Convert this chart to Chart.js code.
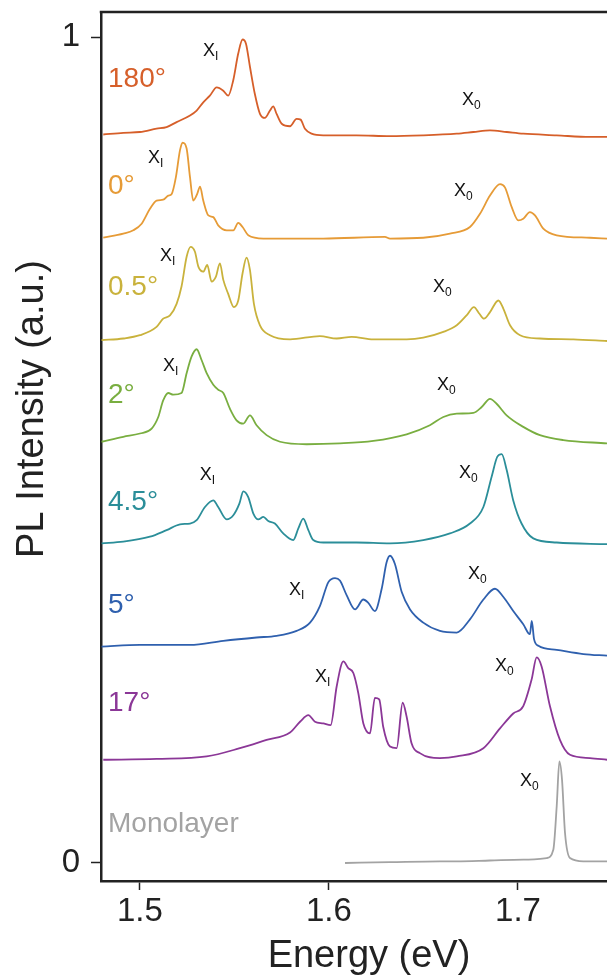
<!DOCTYPE html>
<html lang="en">
<head>
  <meta charset="UTF-8">
  <title>PL spectra vs twist angle</title>
  <script src="https://cdn.jsdelivr.net/npm/chart.js"></script>
  <style>
    html, body{margin: 0; padding: 0; background: #fff;}
    #wrap{width: 607px; height: 978px;}
  </style>
</head>
<body>
  <div id="wrap">
    <canvas id="myChart"></canvas>
  </div>
  <script>
    // ===== data (energy in eV, intensity above each baseline) =====
    const e180 = [1.4806,1.4912,1.5000,1.5088,1.5141,1.5194,1.5265,1.5300,1.5335,1.5370,1.5406,1.5441,1.5467,1.5494,1.5520,1.5543,1.5561,1.5582,1.5608,1.5635,1.5661,1.5688,1.5705,1.5723,1.5750,1.5794,1.5829,1.5850,1.5873,1.5908,1.5970,1.6146,1.6323,1.6499,1.6676,1.6764,1.6852,1.6941,1.7028,1.7205,1.7381,1.7471];
    const i180 = [-0.001,0.001,0.002,0.006,0.008,0.014,0.022,0.028,0.038,0.046,0.056,0.052,0.046,0.065,0.097,0.114,0.109,0.081,0.048,0.024,0.019,0.028,0.033,0.024,0.012,0.009,0.018,0.017,0.006,0,-0.002,-0.002,-0.003,-0.002,0,0.002,0.004,0.002,0,-0.002,-0.004,-0.004];

    const e0 = [1.4806,1.4912,1.4965,1.5009,1.5053,1.5088,1.5123,1.5150,1.5168,1.5190,1.5212,1.5226,1.5247,1.5265,1.5282,1.5303,1.5318,1.5335,1.5362,1.5388,1.5414,1.5459,1.5494,1.5520,1.5543,1.5573,1.5653,1.5970,1.6296,1.6323,1.6499,1.6640,1.6746,1.6799,1.6852,1.6905,1.6931,1.6967,1.7002,1.7028,1.7063,1.7090,1.7134,1.7205,1.7381,1.7471];
    const i0 = [0,0.005,0.009,0.017,0.035,0.045,0.046,0.051,0.053,0.073,0.106,0.115,0.108,0.073,0.045,0.053,0.062,0.045,0.027,0.025,0.015,0.009,0.009,0.018,0.013,0.003,-0.001,-0.001,0.001,-0.001,0,0.005,0.013,0.029,0.051,0.065,0.061,0.037,0.021,0.023,0.031,0.027,0.011,0.003,0,-0.001];

    const e05 = [1.4797,1.4912,1.5000,1.5088,1.5123,1.5159,1.5194,1.5220,1.5247,1.5268,1.5291,1.5309,1.5335,1.5356,1.5379,1.5402,1.5423,1.5441,1.5467,1.5497,1.5520,1.5543,1.5564,1.5582,1.5603,1.5635,1.5688,1.5794,1.5952,1.6041,1.6120,1.6235,1.6411,1.6499,1.6605,1.6676,1.6728,1.6767,1.6796,1.6820,1.6852,1.6896,1.6923,1.6958,1.7011,1.7116,1.7293,1.7471];
    const i05 = [0,0.002,0.006,0.016,0.026,0.030,0.044,0.065,0.101,0.113,0.107,0.089,0.083,0.091,0.071,0.077,0.093,0.073,0.056,0.040,0.048,0.081,0.100,0.085,0.044,0.018,0.006,0.001,0.005,0.002,0.004,0.001,0.001,0.003,0.010,0.018,0.030,0.040,0.032,0.026,0.034,0.048,0.038,0.018,0.006,0.002,0.001,-0.001];

    const e2 = [1.4797,1.4912,1.5000,1.5062,1.5097,1.5123,1.5150,1.5176,1.5220,1.5247,1.5273,1.5300,1.5326,1.5353,1.5388,1.5414,1.5441,1.5476,1.5511,1.5547,1.5582,1.5617,1.5670,1.5741,1.5882,1.6058,1.6235,1.6411,1.6534,1.6605,1.6676,1.6764,1.6808,1.6852,1.6887,1.6940,1.7028,1.7116,1.7240,1.7471];
    const i2 = [0.002,0.008,0.012,0.018,0.032,0.052,0.061,0.059,0.061,0.085,0.105,0.114,0.101,0.085,0.071,0.065,0.061,0.042,0.028,0.024,0.034,0.022,0.010,0.002,-0.001,0,0.003,0.011,0.022,0.032,0.036,0.037,0.044,0.054,0.048,0.034,0.020,0.010,0.004,0];

    const e45 = [1.4797,1.4912,1.5053,1.5141,1.5212,1.5265,1.5300,1.5344,1.5388,1.5414,1.5459,1.5494,1.5526,1.5547,1.5573,1.5600,1.5626,1.5653,1.5679,1.5714,1.5758,1.5811,1.5838,1.5864,1.5891,1.5917,1.5970,1.6146,1.6323,1.6499,1.6640,1.6746,1.6817,1.6861,1.6891,1.6914,1.6940,1.6975,1.7019,1.7081,1.7205,1.7471];
    const i45 = [0,0.002,0.008,0.016,0.023,0.024,0.028,0.044,0.052,0.044,0.029,0.034,0.048,0.063,0.056,0.036,0.029,0.032,0.027,0.024,0.012,0.004,0.018,0.030,0.016,0.004,0.001,0.001,0,0.004,0.012,0.024,0.044,0.081,0.105,0.108,0.089,0.052,0.024,0.006,0.001,-0.001];

    const e5 = [1.4797,1.5000,1.5265,1.5441,1.5617,1.5723,1.5829,1.5900,1.5952,1.5997,1.6032,1.6058,1.6094,1.6138,1.6182,1.6208,1.6243,1.6279,1.6305,1.6323,1.6349,1.6385,1.6429,1.6499,1.6587,1.6676,1.6746,1.6817,1.6878,1.6923,1.6975,1.7028,1.7063,1.7073,1.7085,1.7108,1.7205,1.7346,1.7471];
    const i5 = [-0.001,0.001,0.001,0.006,0.010,0.012,0.018,0.028,0.048,0.077,0.082,0.079,0.061,0.044,0.056,0.052,0.042,0.069,0.101,0.109,0.099,0.065,0.044,0.028,0.018,0.016,0.032,0.056,0.069,0.059,0.042,0.026,0.014,0.030,0.008,0,-0.005,-0.010,-0.012];

    const e17 = [1.4806,1.5088,1.5353,1.5529,1.5670,1.5794,1.5847,1.5891,1.5926,1.5970,1.6009,1.6041,1.6076,1.6102,1.6129,1.6155,1.6182,1.6217,1.6243,1.6266,1.6287,1.6323,1.6358,1.6390,1.6411,1.6437,1.6481,1.6587,1.6676,1.6817,1.6905,1.6975,1.7028,1.7072,1.7099,1.7125,1.7169,1.7222,1.7275,1.7381,1.7471];
    const i17 = [0,0.001,0.004,0.014,0.024,0.033,0.046,0.054,0.046,0.044,0.042,0.089,0.119,0.111,0.105,0.081,0.044,0.032,0.075,0.073,0.040,0.016,0.014,0.069,0.052,0.020,0.008,0.002,0.004,0.014,0.038,0.056,0.065,0.097,0.124,0.113,0.065,0.024,0.006,0.002,0];

    const eMono = [1.6085,1.6323,1.6587,1.6676,1.6852,1.7028,1.7152,1.7187,1.7205,1.7219,1.7233,1.7249,1.7275,1.7346,1.7471];
    const iMono = [0,0.001,0.002,0.002,0.003,0.004,0.006,0.016,0.069,0.123,0.101,0.036,0.006,0.002,0.002];

    const traceNames   = ['180°', '0°', '0.5°', '2°', '4.5°', '5°', '17°', 'Monolayer'];
    const traceOffsets = [0.883, 0.757, 0.633, 0.508, 0.387, 0.263, 0.125, 0];
    const energyList    = [e180, e0, e05, e2, e45, e5, e17, eMono];
    const intensityList = [i180, i0, i05, i2, i45, i5, i17, iMono];

    const xTicks = [1.5, 1.6, 1.7];
    const yTicks = [0, 1];

    // ===== styling / placement (not data) =====
    const traceColors = ['#D65F2A', '#E69B37', '#C9B23C', '#79AE40', '#2B8E99', '#2F60AE', '#8B3797', '#A3A3A3'];
    // where the name of each trace sits (energy, y value of the text baseline)
    const nameX = 1.4831;
    const nameY = [0.939, 0.810, 0.688, 0.557, 0.427, 0.303, 0.184, 0.0375];
    // X_I / X_0 marks: [subscript, energy, baseline y]
    const peakMarks = [
      ['I', 1.5333, 0.977], ['0', 1.6704, 0.918],
      ['I', 1.5042, 0.847], ['0', 1.6661, 0.807],
      ['I', 1.5106, 0.729], ['0', 1.6550, 0.691],
      ['I', 1.5122, 0.596], ['0', 1.6571, 0.573],
      ['I', 1.5317, 0.464], ['0', 1.6688, 0.466],
      ['I', 1.5788, 0.324], ['0', 1.6735, 0.344],
      ['I', 1.5926, 0.219], ['0', 1.6878, 0.232],
      ['0', 1.7011, 0.093]
    ];

    const FONT = '"Liberation Sans", Arial, Helvetica, sans-serif';
    const AXIS = '#222';

    // build datasets: each spectrum shifted up by its offset
    const datasets = traceNames.map(function(name, k){
      const pts = [];
      const n = Math.min(energyList[k].length, intensityList[k].length);
      for(let i=0;i<n;i++){
        pts.push({x: energyList[k][i], y: intensityList[k][i] + traceOffsets[k]});
      }
      return {
        label: name,
        data: pts,
        borderColor: traceColors[k],
        borderWidth: 1.8,
        pointRadius: 0,
        cubicInterpolationMode: 'monotone',
        fill: false
      };
    });

    // text on the plot + top frame line + axis titles
    const textPlugin = {
      id: 'textPlugin',
      afterDatasetsDraw(chart){
        const ctx = chart.ctx;
        const area = chart.chartArea;
        const xs = chart.scales.x, ys = chart.scales.y;
        ctx.save();

        // top frame line
        ctx.strokeStyle = AXIS;
        ctx.lineWidth = 2.5;
        ctx.beginPath();
        ctx.moveTo(area.left - 1.25, area.top);
        ctx.lineTo(area.right, area.top);
        ctx.stroke();

        // trace names
        ctx.font = '28px ' + FONT;
        ctx.textAlign = 'left';
        ctx.textBaseline = 'alphabetic';
        traceNames.forEach(function(name, k){
          ctx.fillStyle = traceColors[k];
          ctx.fillText(name, xs.getPixelForValue(nameX), ys.getPixelForValue(nameY[k]));
        });

        // X_I, X_0
        ctx.fillStyle = '#111';
        peakMarks.forEach(function(m){
          const px = xs.getPixelForValue(m[1]);
          const py = ys.getPixelForValue(m[2]);
          ctx.font = '18px ' + FONT;
          ctx.fillText('X', px, py);
          const w = ctx.measureText('X').width;
          ctx.font = '12px ' + FONT;
          ctx.fillText(m[0], px + w, py + 4);
        });

        // axis titles
        ctx.fillStyle = AXIS;
        ctx.font = '38px ' + FONT;
        ctx.textAlign = 'center';
        ctx.fillText('Energy (eV)', 369, 967);
        ctx.translate(43, 409);
        ctx.rotate(-Math.PI / 2);
        ctx.fillText('PL Intensity (a.u.)', 0, 0);

        ctx.restore();
      }
    };

    // no extra room for half tick labels at the ends of the axes
    function noEndPadding(s){
      s.paddingTop = 0; s.paddingBottom = 0;
      s.paddingLeft = 0; s.paddingRight = 0;
    }

    const ctx = document.getElementById('myChart');
    new Chart(ctx, {
      type: 'line',
      data: {datasets: datasets},
      options: {
        responsive: true,
        maintainAspectRatio: false,
        animation: false,
        layout: {padding: {top: 12, right: 0, left: 0, bottom: 0}},
        plugins: {legend: {display: false}, tooltip: {enabled: false}},
        scales: {
          x: {
            type: 'linear',
            min: 1.4794,
            max: 1.7471,
            afterBuildTicks: function(s){ s.ticks = xTicks.map(v => ({value: v})); },
            afterFit: function(s){ s.height = 97; noEndPadding(s); },
            ticks: {
              color: AXIS,
              font: {family: FONT, size: 33},
              padding: 2,
              maxRotation: 0,
              callback: v => Number(v).toFixed(1)
            },
            grid: {display: true, drawOnChartArea: false, drawTicks: true, tickLength: 9, tickWidth: 1.5, tickColor: AXIS},
            border: {display: true, color: AXIS, width: 2.5}
          },
          y: {
            type: 'linear',
            min: -0.0218,
            max: 1.0303,
            afterBuildTicks: function(s){ s.ticks = yTicks.map(v => ({value: v})); },
            afterFit: function(s){ s.width = 101; noEndPadding(s); },
            ticks: {
              color: AXIS,
              font: {family: FONT, size: 33},
              padding: 11,
              callback: v => String(v)
            },
            grid: {display: true, drawOnChartArea: false, drawTicks: true, tickLength: 10, tickWidth: 1.5, tickColor: AXIS},
            border: {display: true, color: AXIS, width: 2.5}
          }
        }
      },
      plugins: [textPlugin]
    });
  </script>
</body>
</html>
